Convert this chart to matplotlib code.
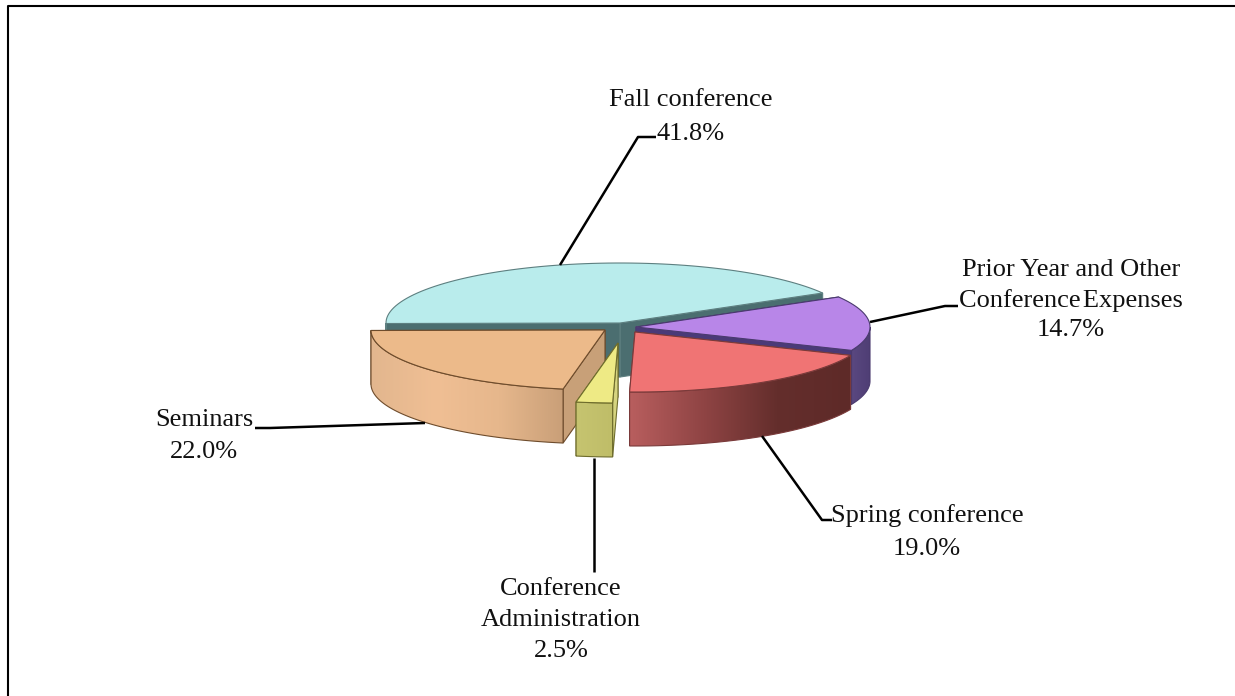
import numpy as np
import matplotlib
matplotlib.use('Agg')
import matplotlib.pyplot as plt
from matplotlib.colors import LinearSegmentedColormap
from matplotlib.patches import Polygon

# Data
categories = ['Fall conference', 'Seminars', 'Conference\nAdministration',
              'Spring conference', 'Prior Year and Other\nConference\u200aExpenses']
shares = [41.8, 22.0, 2.5, 19.0, 14.7]

# Layout, in pixels of the 1235x696 picture
start_angle = 30
rx, ry, depth = 234, 60, 54
centres = [(620, 323), (605, 330), (618, 343), (635, 332), (636, 327)]
tops = ['#b9ecec', '#ecba8a', '#eeea85', '#f07474', '#b886e8']
edges = ['#5d7f80', '#6e4c2c', '#6e6c2c', '#7a3a3a', '#4a3a6e']
cuts = ['#4b6e70', '#c8a078', '#d6d480', '#8f4444', '#4a3a78']
walls = [['#4b6e70', '#4b6e70'],
         ['#e2b68e', '#f0bf94', '#e6b78c', '#c99f78'],
         ['#c6c470', '#bfbd68'],
         ['#b85e5e', '#8f4444', '#642e2c', '#5e2a28'],
         ['#5a4880', '#4e3d74']]
draw_order = [0, 4, 3, 1, 2]

# Leader lines start on the slice and bend towards the label
leaders = [[(560, 265), (638, 137), (656, 137)],
           [(425, 423), (270, 428), (255, 428)],
           [(594, 458), (594, 572)],
           [(762, 436), (822, 520), (832, 520)],
           [(870, 322), (945, 306), (958, 306)]]
label_pos = [(691, 117), (204, 436), (561, 620), (927, 532), (1071, 300)]
label_spacing = [1.7, 1.6, 1.55, 1.6, 1.45]

plt.rcParams['font.family'] = 'Liberation Serif'
fig = plt.figure(figsize=(12.35, 6.96), dpi=100)
ax = fig.add_axes([0, 0, 1, 1])


def arc(cx, cy, a0, a1, n=80):
    t = np.radians(np.linspace(a0, a1, n))
    return np.column_stack([cx + rx * np.cos(t), cy - ry * np.sin(t)])


def draw_slice(i, a0, a1):
    cx, cy = centres[i]
    top = arc(cx, cy, a0, a1)
    down = np.array([0, depth])
    apex = np.array([cx, cy])

    # cut faces
    for end in (top[0], top[-1]):
        face = np.array([apex, end, end + down, apex + down])
        ax.add_patch(Polygon(face, fc=cuts[i], ec=edges[i], lw=0.8, zorder=z[i]))

    # outer wall, only the part facing us
    if a1 > 360:
        vis = arc(cx, cy, a0, 360)  # the back part of the slice stays hidden
    else:
        vis = arc(cx, cy, max(a0, 180), a1) if a1 > 180 else None
    if vis is not None:
        wall = np.vstack([vis, (vis + down)[::-1]])
        patch = Polygon(wall, fc='none', ec='none', zorder=z[i])
        ax.add_patch(patch)
        cmap = LinearSegmentedColormap.from_list('wall', walls[i])
        im = ax.imshow(np.linspace(0, 1, 256).reshape(1, -1), cmap=cmap,
                       extent=[wall[:, 0].min(), wall[:, 0].max(),
                               wall[:, 1].max(), wall[:, 1].min()],
                       aspect='auto', zorder=z[i], interpolation='bilinear')
        im.set_clip_path(patch)
        ax.add_patch(Polygon(wall, fc='none', ec=edges[i], lw=0.8, zorder=z[i]))

    # top face
    face = np.vstack([apex, top])
    ax.add_patch(Polygon(face, fc=tops[i], ec=edges[i], lw=0.8, zorder=z[i]))


z = {i: 2 + n for n, i in enumerate(draw_order)}
bounds = start_angle + np.concatenate([[0], np.cumsum(shares)]) * 3.6
for i in draw_order:
    draw_slice(i, bounds[i], bounds[i + 1])

for pts, pos, name, share, sp in zip(leaders, label_pos, categories, shares, label_spacing):
    xs, ys = zip(*pts)
    ax.plot(xs, ys, color='black', lw=1.8, solid_capstyle='butt', zorder=10)
    ax.text(pos[0], pos[1], f'{name}\n{share:.1f}%', ha='center', va='center',
            fontsize=19, color='#111111', linespacing=sp, zorder=11)

# Frame: only the left and top edges are in the picture
ax.plot([8, 8, 1235], [696, 6, 6], color='black', lw=1.5, zorder=1)

ax.set_xlim(0, 1235)
ax.set_ylim(696, 0)
ax.axis('off')
fig.savefig('out.png', dpi=100, facecolor='white')
